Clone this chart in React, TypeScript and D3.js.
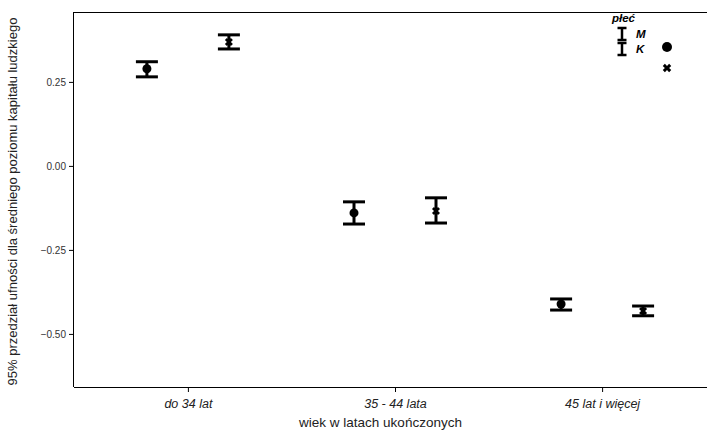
import React, { useEffect, useRef } from "react";
import * as d3 from "d3";

// wiek (kategorie osi X)
const categories = ["do 34 lat", "35 - 44 lata", "45 lat i więcej"];
const series = ["M", "K"];

// średnie i granice 95% przedziału ufności
const meanM = [0.289, -0.14, -0.411];
const lowM = [0.265, -0.173, -0.429];
const highM = [0.31, -0.107, -0.396];

const meanK = [0.369, -0.134, -0.432];
const lowK = [0.348, -0.17, -0.446];
const highK = [0.39, -0.095, -0.417];

const yTicks = [0.25, 0.0, -0.25, -0.5];

const W = 707;
const H = 431;
const FONT = "'Liberation Sans', Arial, sans-serif";

function App() {
  const ref = useRef<SVGSVGElement>(null);

  useEffect(() => {
    const svg = d3.select(ref.current);
    svg.selectAll("*").remove();

    const left = 74, top = 12, bottom = 387;

    const x = d3.scalePoint<string>()
      .domain(categories)
      .range([left, 716])
      .padding(0.55);

    const off = d3.scalePoint<string>()
      .domain(series)
      .range([-41, 41]);

    const y = d3.scaleLinear()
      .domain([-0.658, 0.458])
      .range([bottom, top]);

    // ramka: lewa, górna, dolna
    svg.append("line")
      .attr("x1", left).attr("x2", W)
      .attr("y1", top + 0.5).attr("y2", top + 0.5)
      .attr("stroke", "#000").attr("stroke-width", 1);

    const yAxis = svg.append("g")
      .attr("transform", `translate(${left},0)`)
      .call(d3.axisLeft(y).tickValues(yTicks).tickSize(5).tickFormat(d3.format(".2f")));
    yAxis.select(".domain").attr("d", `M-0.5,${top}V${bottom}`);
    yAxis.selectAll("text")
      .style("font-family", FONT)
      .style("font-size", "10px")
      .attr("fill", "#333");

    const xAxis = svg.append("g")
      .attr("transform", `translate(0,${bottom})`)
      .call(d3.axisBottom(x).tickSize(5).tickPadding(7));
    xAxis.select(".domain").attr("d", `M${left},0.5H${W}`);
    xAxis.selectAll("text")
      .style("font-family", FONT)
      .style("font-size", "12.5px")
      .style("font-style", "italic")
      .attr("fill", "#222");

    // tytuły osi
    svg.append("text")
      .attr("x", (left + W) / 2 - 10)
      .attr("y", 427)
      .attr("text-anchor", "middle")
      .style("font-family", FONT)
      .style("font-size", "13.5px")
      .attr("fill", "#222")
      .text("wiek w latach ukończonych");

    svg.append("text")
      .attr("transform", `translate(17,${(top + bottom) / 2 + 2}) rotate(-90)`)
      .attr("text-anchor", "middle")
      .style("font-family", FONT)
      .style("font-size", "13px")
      .attr("fill", "#222")
      .text("95% przedział ufności dla średniego poziomu kapitału ludzkiego");

    const data = series.flatMap((s) =>
      categories.map((c, i) => ({
        s,
        c,
        mean: s === "M" ? meanM[i] : meanK[i],
        lo: s === "M" ? lowM[i] : lowK[i],
        hi: s === "M" ? highM[i] : highK[i],
      }))
    );

    const g = svg.append("g");
    const bars = g.selectAll("g.bar").data(data).enter().append("g").attr("class", "bar")
      .attr("transform", (d) => `translate(${(x(d.c) as number) + (off(d.s) as number)},0)`);

    bars.append("line")
      .attr("y1", (d) => y(d.lo)).attr("y2", (d) => y(d.hi))
      .attr("stroke", "#000").attr("stroke-width", 3);
    bars.append("line")
      .attr("x1", -11).attr("x2", 11)
      .attr("y1", (d) => y(d.hi)).attr("y2", (d) => y(d.hi))
      .attr("stroke", "#000").attr("stroke-width", 3);
    bars.append("line")
      .attr("x1", -11).attr("x2", 11)
      .attr("y1", (d) => y(d.lo)).attr("y2", (d) => y(d.lo))
      .attr("stroke", "#000").attr("stroke-width", 3);

    bars.filter((d) => d.s === "M").append("circle")
      .attr("cy", (d) => y(d.mean)).attr("r", 4.5).attr("fill", "#000");
    bars.filter((d) => d.s === "K").append("path")
      .attr("transform", (d) => `translate(0,${y(d.mean)}) rotate(45)`)
      .attr("d", d3.symbol(d3.symbolCross, 40)())
      .attr("fill", "#000");

    // legenda
    const leg = svg.append("g");
    leg.append("text")
      .attr("x", 612).attr("y", 22)
      .style("font-family", FONT).style("font-size", "11.5px")
      .style("font-style", "italic").style("font-weight", "bold")
      .text("płeć");
    series.forEach((s, i) => {
      const yy = 28 + i * 15;
      leg.append("line").attr("x1", 622).attr("x2", 622).attr("y1", yy).attr("y2", yy + 12)
        .attr("stroke", "#000").attr("stroke-width", 2.5);
      leg.append("line").attr("x1", 617.5).attr("x2", 626.5).attr("y1", yy).attr("y2", yy)
        .attr("stroke", "#000").attr("stroke-width", 2.5);
      leg.append("line").attr("x1", 617.5).attr("x2", 626.5).attr("y1", yy + 12).attr("y2", yy + 12)
        .attr("stroke", "#000").attr("stroke-width", 2.5);
      leg.append("text")
        .attr("x", 636).attr("y", yy + 10)
        .style("font-family", FONT).style("font-size", "11.5px")
        .style("font-style", "italic").style("font-weight", "bold")
        .text(s);
    });
    leg.append("circle").attr("cx", 667).attr("cy", 47).attr("r", 5).attr("fill", "#000");
    leg.append("path")
      .attr("transform", "translate(667,68) rotate(45)")
      .attr("d", d3.symbol(d3.symbolCross, 45)())
      .attr("fill", "#000");
  }, []);

  return (
    <svg ref={ref} width={W} height={H} style={{ display: "block", position: "absolute", left: 0, top: 0 }} />
  );
}

export default App;
